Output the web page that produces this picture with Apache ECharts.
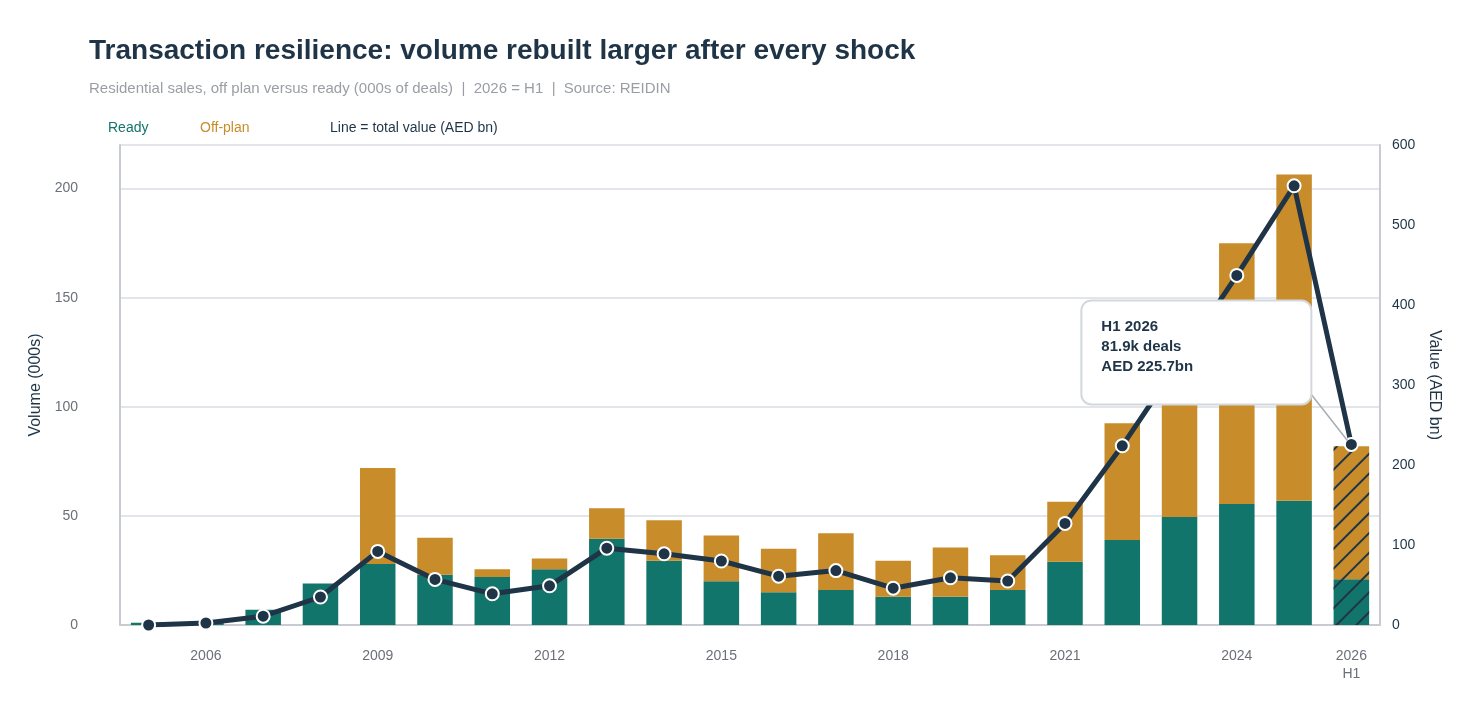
<!DOCTYPE html>
<html><head><meta charset="utf-8">
<script src="https://cdn.jsdelivr.net/npm/echarts@6/dist/echarts.min.js"></script>
<style>html,body{margin:0;padding:0;background:#fff}#c{width:1458px;height:720px}</style>
</head><body><div id="c"></div>
<script>
const categories=['2005','2006','2007','2008','2009','2010','2011','2012','2013','2014','2015','2016','2017','2018','2019','2020','2021','2022','2023','2024','2025','2026\nH1'];
const ready=[1,1,7,19,28,23,22,25.5,39.5,29.5,20,15,16,13,13,16,29,39,49.5,55.5,57,21];
const total=[1,1.5,7,19,72,40,25.5,30.5,53.5,48,41,35,42,29.5,35.5,32,56.5,92.5,134,175,206.5,81.9];
const offplan=total.map((t,i)=>+(t-ready[i]).toFixed(1));
const value=[0,2.5,11,35,92,57,39,49,96,89,80,61,68,46,59,55,127,224,330,437,549,225.7];
const hatch=total.map((t,i)=>i===total.length-1?t:'-');
const chart=echarts.init(document.getElementById('c'));
const F='Liberation Sans, Arial, sans-serif';
chart.setOption({
 animation:false,
 textStyle:{fontFamily:F},
 title:{text:'Transaction resilience: volume rebuilt larger after every shock',left:84,top:32,
  textStyle:{fontSize:28,fontWeight:'bold',color:'#1f3447'},
  subtext:'Residential sales, off plan versus ready (000s of deals)  |  2026 = H1  |  Source: REIDIN',
  subtextStyle:{fontSize:15,color:'#9a9ea4'},itemGap:16},
 graphic:[
  {type:'text',left:108,top:121,style:{text:'Ready',fill:'#12756b',font:'14px '+F}},
  {type:'text',left:200,top:121,style:{text:'Off-plan',fill:'#c88c2a',font:'14px '+F}},
  {type:'text',left:330,top:121,style:{text:'Line = total value (AED bn)',fill:'#1f3447',font:'14px '+F}}
 ],
 grid:{left:120,right:78,top:145,bottom:95},
 xAxis:{type:'category',data:categories,
  axisLine:{lineStyle:{color:'#c8ccd1',width:2}},axisTick:{show:false},
  axisLabel:{color:'#6b7078',fontSize:14,margin:22,lineHeight:18,
   interval:(i)=>i===categories.length-1||(i-1)%3===0}},
 yAxis:[
  {type:'value',min:0,max:220,interval:50,name:'Volume (000s)',nameLocation:'middle',nameGap:70,
   nameTextStyle:{color:'#1f3447',fontSize:16},
   axisLine:{show:true,lineStyle:{color:'#c8ccd1',width:2}},
   axisLabel:{color:'#6b7078',fontSize:14,margin:42,align:'right',formatter:v=>v>200?'':v},
   splitLine:{lineStyle:{color:'#d9dde2',width:1.5}}},
  {type:'value',min:0,max:600,interval:100,name:'Value (AED bn)',nameLocation:'middle',nameGap:42,nameRotate:-90,
   nameTextStyle:{color:'#1f3447',fontSize:16},
   axisLine:{show:true,lineStyle:{color:'#c8ccd1',width:2}},
   axisLabel:{color:'#1f3447',fontSize:14,margin:12},splitLine:{show:false}}
 ],
 series:[
  {name:'Ready',type:'bar',stack:'v',data:ready,barWidth:'62%',itemStyle:{color:'#12756b'}},
  {name:'Off-plan',type:'bar',stack:'v',data:offplan,itemStyle:{color:'#c88c2a'}},
  {name:'hatch',type:'bar',data:hatch,barGap:'-100%',barWidth:'62%',z:3,
   itemStyle:{color:'rgba(0,0,0,0)',decal:{symbol:'rect',symbolSize:1,color:'#1f3447',dashArrayX:[[1,0]],dashArrayY:[1.5,12],rotation:-Math.PI/4}}},
  {name:'Value',type:'line',yAxisIndex:1,data:value,z:5,
   lineStyle:{color:'#1f3447',width:5},symbol:'circle',symbolSize:13,
   itemStyle:{color:'#1f3447',borderColor:'#fff',borderWidth:2}}
 ]
});
const p=chart.convertToPixel({xAxisIndex:0,yAxisIndex:1},[categories.length-1,value[value.length-1]]);
const bx=p[0]-270,by=p[1]-144,bw=230,bh=104;
chart.setOption({graphic:[
  {type:'text',left:108,top:121,style:{text:'Ready',fill:'#12756b',font:'14px '+F}},
  {type:'text',left:200,top:121,style:{text:'Off-plan',fill:'#c88c2a',font:'14px '+F}},
  {type:'text',left:330,top:121,style:{text:'Line = total value (AED bn)',fill:'#1f3447',font:'14px '+F}},
  {type:'line',z:10,shape:{x1:bx+bw,y1:by+bh-10,x2:p[0]-4,y2:p[1]-4},style:{stroke:'#a8adb3',lineWidth:1.5}},
  {type:'rect',z:11,shape:{x:bx,y:by,width:bw,height:bh,r:10},style:{fill:'#fff',stroke:'#d3d8dd',lineWidth:2}},
  {type:'text',z:12,x:bx+20,y:by+16,style:{text:'H1 2026\n81.9k deals\nAED 225.7bn',fill:'#1f3447',font:'bold 15px '+F,lineHeight:20}}
]},{replaceMerge:['graphic']});
</script></body></html>
